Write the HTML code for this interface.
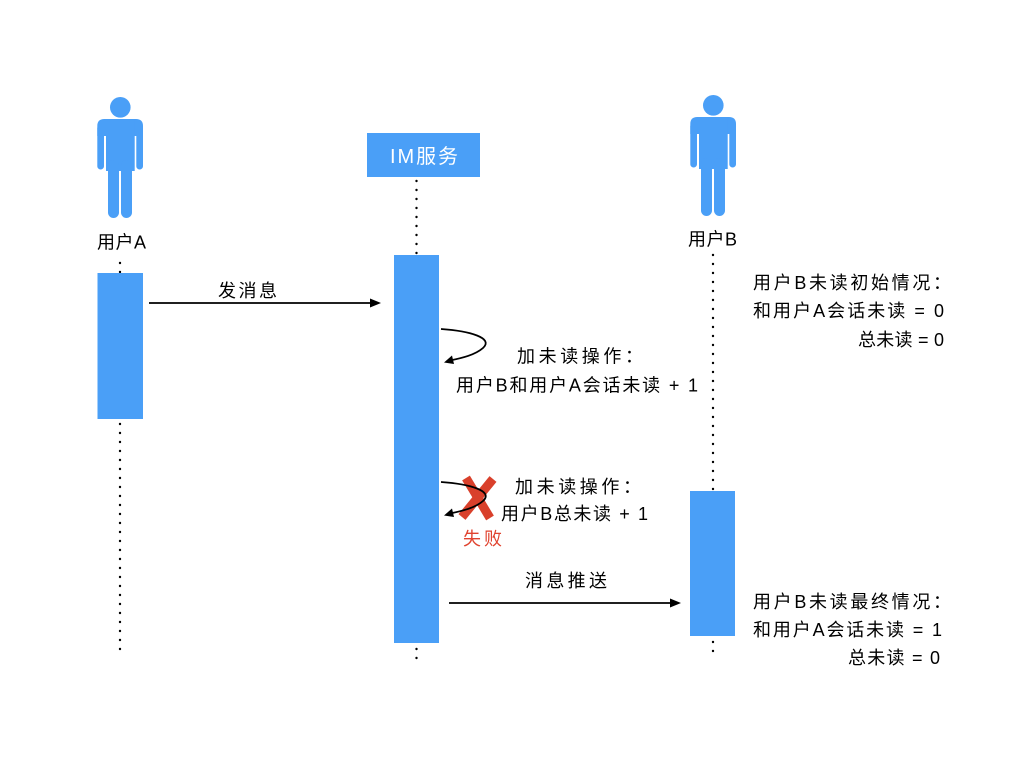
<!DOCTYPE html>
<html>
<head>
<meta charset="utf-8">
<style>
  html,body{margin:0;padding:0;background:#fff;}
  body{width:1024px;height:768px;overflow:hidden;}
  svg{display:block;}
  text{font-family:"Liberation Sans","Noto Sans CJK SC",sans-serif;font-size:18px;fill:#000;}
</style>
</head>
<body>
<svg width="1024" height="768" viewBox="0 0 1024 768" xmlns="http://www.w3.org/2000/svg">
  <defs>
    <g id="person" fill="#4A9FF7">
      <circle cx="120.3" cy="107.3" r="10.3"/>
      <path d="M97.3,136 L97.3,126 Q97.3,119 104.3,119 L136,119 Q143,119 143,126 L143,136 Z"/>
      <rect x="97.3" y="125" width="6.7" height="44.5" rx="3.3"/>
      <rect x="136.3" y="125" width="6.7" height="44.5" rx="3.3"/>
      <rect x="106" y="119" width="28.7" height="52"/>
      <rect x="108" y="160" width="11" height="58" rx="5.5"/>
      <rect x="121" y="160" width="11" height="58" rx="5.5"/>
    </g>
  </defs>

  <rect width="1024" height="768" fill="#fff"/>

  <!-- persons -->
  <use href="#person"/>
  <use href="#person" transform="translate(593,-2)"/>

  <!-- labels under persons -->
  <text x="97" y="248.5" textLength="49" lengthAdjust="spacing">用户A</text>
  <text x="688" y="245.5" textLength="49" lengthAdjust="spacing">用户B</text>

  <!-- IM service box -->
  <rect x="367" y="133" width="113" height="44" fill="#4A9FF7"/>
  <text x="390" y="163" style="font-size:20px;fill:#fff" textLength="68" lengthAdjust="spacing">IM服务</text>

  <!-- lifelines: dots -->
  <g stroke="#000" stroke-width="2.4" stroke-linecap="round" stroke-dasharray="0 9" fill="none">
    <line x1="120" y1="263" x2="120" y2="273"/>
    <line x1="120" y1="424" x2="120" y2="652"/>
    <line x1="416.5" y1="181" x2="416.5" y2="255"/>
    <line x1="416.5" y1="649" x2="416.5" y2="660"/>
    <line x1="713" y1="255" x2="713" y2="490"/>
    <line x1="713" y1="642" x2="713" y2="654"/>
  </g>

  <!-- activation boxes -->
  <rect x="97.5" y="273" width="45.5" height="146" fill="#4A9FF7"/>
  <rect x="394" y="255" width="45" height="388" fill="#4A9FF7"/>
  <rect x="690" y="491" width="45" height="145" fill="#4A9FF7"/>

  <!-- arrow 1: 发消息 -->
  <line x1="149" y1="303" x2="372" y2="303" stroke="#000" stroke-width="1.8"/>
  <polygon points="370,298.5 381,303 370,307.5" fill="#000"/>
  <text x="218" y="297" textLength="59" lengthAdjust="spacing">发消息</text>

  <!-- self arrow 1 -->
  <path d="M441,329 C470,331 494,338 483,348 C475,355 462,358 450,360.5" fill="none" stroke="#000" stroke-width="1.8"/>
  <polygon points="444,362.5 452,355.5 454,364" fill="#000"/>
  <text x="517" y="362.5" textLength="126" lengthAdjust="spacing">加未读操作：</text>
  <text x="456" y="391.5" textLength="242" lengthAdjust="spacing">用户B和用户A会话未读 + 1</text>

  <!-- red X -->
  <g stroke="#D9402B" stroke-width="9" stroke-linecap="butt">
    <line x1="466" y1="478" x2="490" y2="518"/>
    <line x1="493" y1="479" x2="462" y2="517"/>
  </g>

  <!-- self arrow 2 -->
  <path d="M441,482 C470,484 494,491 483,501 C475,508 462,511 450,513.5" fill="none" stroke="#000" stroke-width="1.8"/>
  <polygon points="444,515.5 452,508.5 454,517" fill="#000"/>
  <text x="515" y="493" textLength="126" lengthAdjust="spacing">加未读操作：</text>
  <text x="501" y="520" textLength="147" lengthAdjust="spacing">用户B总未读 + 1</text>
  <text x="463" y="545" style="fill:#E0432F" textLength="39" lengthAdjust="spacing">失败</text>

  <!-- arrow 2: 消息推送 -->
  <line x1="449" y1="603" x2="672" y2="603" stroke="#000" stroke-width="1.8"/>
  <polygon points="670,598.5 681,603 670,607.5" fill="#000"/>
  <text x="525" y="587" textLength="82" lengthAdjust="spacing">消息推送</text>

  <!-- right side notes: initial -->
  <text x="753" y="289" textLength="198" lengthAdjust="spacing">用户B未读初始情况：</text>
  <text x="753" y="317" textLength="191" lengthAdjust="spacing">和用户A会话未读 = 0</text>
  <text x="858" y="346" textLength="86" lengthAdjust="spacing">总未读 = 0</text>

  <!-- right side notes: final -->
  <text x="753" y="608" textLength="198" lengthAdjust="spacing">用户B未读最终情况：</text>
  <text x="753" y="636" textLength="189" lengthAdjust="spacing">和用户A会话未读 = 1</text>
  <text x="848" y="664" textLength="92" lengthAdjust="spacing">总未读 = 0</text>
</svg>
</body>
</html>
